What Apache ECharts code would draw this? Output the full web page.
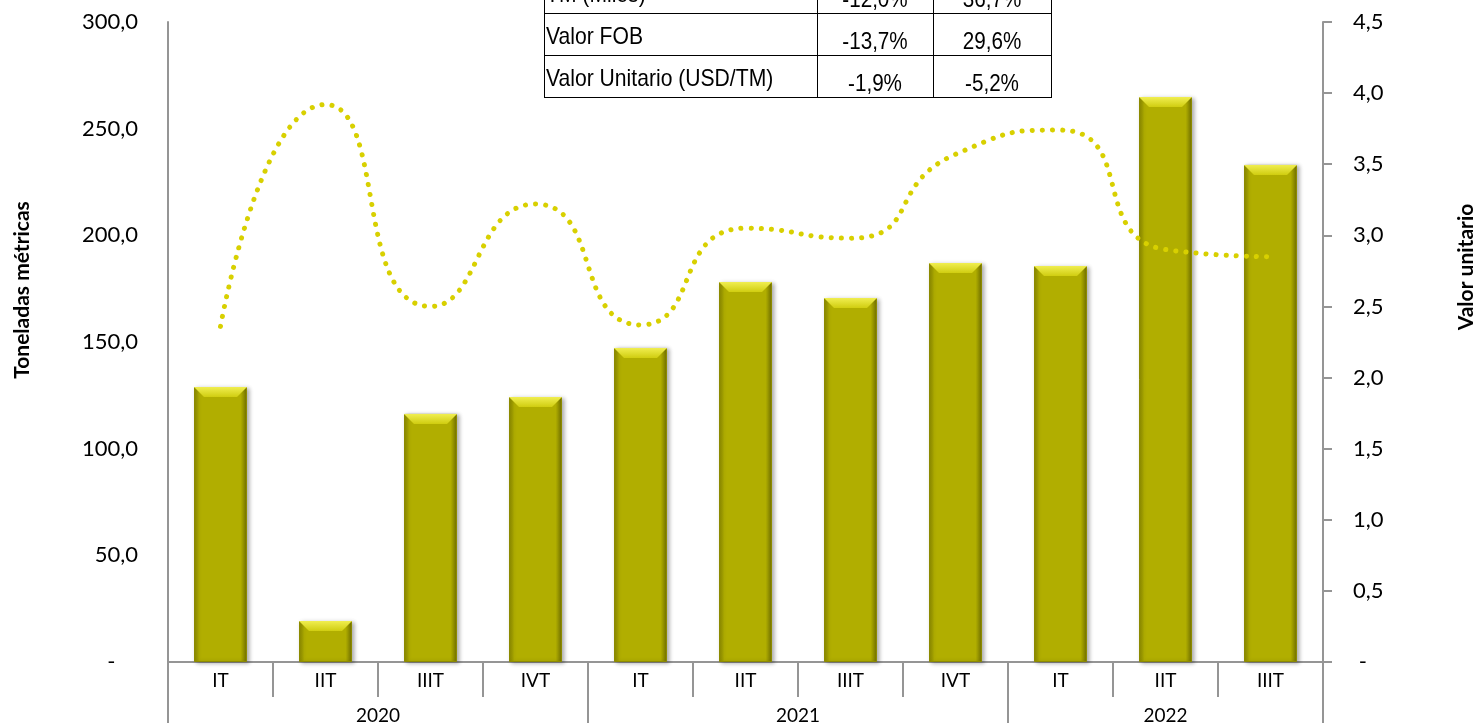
<!DOCTYPE html>
<html>
<head>
<meta charset="utf-8">
<title>Toneladas métricas y valor unitario</title>
<script src="https://cdn.jsdelivr.net/npm/echarts@6/dist/echarts.min.js"></script>
<style>
  html, body { margin: 0; padding: 0; background: #fff; }
  #chart { width: 1479px; height: 723px; }
</style>
</head>
<body>
<div id="chart"></div>
<script>
// categorías del eje x
const quarters = ["IT", "IIT", "IIIT", "IVT", "IT", "IIT", "IIIT", "IVT", "IT", "IIT", "IIIT"];
const years = ["2020", "2021", "2022"];
const quartersPerYear = [4, 4, 3];
// toneladas métricas (barras, eje izquierdo)
const toneladas = [128.9, 19.2, 116.3, 124.2, 147.2, 178.1, 170.6, 187.0, 185.6, 264.8, 233.0];
// valor unitario (línea, eje derecho)
const valorUnitario = [2.36, 3.92, 2.5, 3.22, 2.37, 3.05, 2.98, 3.57, 3.74, 2.9, 2.85];
// cuadro de variaciones
const tablaFilas = ["TM (Miles)", "Valor FOB", "Valor Unitario (USD/TM)"];
const tablaCol1 = ["-12,0%", "-13,7%", "-1,9%"];
const tablaCol2 = ["36,7%", "29,6%", "-5,2%"];

// límites y centros de cada año (en unidades de categoría)
const yearBorders = [0];
const yearCenters = [];
quartersPerYear.forEach(n => {
  const start = yearBorders[yearBorders.length - 1];
  yearCenters.push(start + n / 2);
  yearBorders.push(start + n);
});

const grey = "#959595";
const labelFont = "Lato, 'Open Sans', sans-serif";
const tableFont = "'Liberation Sans', Arial, sans-serif";

function fmt(v) {
  return v.toFixed(1).replace(".", ",");
}

// cuadro superior (cortado arriba), letra angosta simulada con scaleX
function buildTable() {
  const xs = [544, 817, 933, 1051];
  const ys = [-29, 13, 55, 97];
  const els = [];
  xs.forEach(x => {
    els.push({ type: "line", shape: { x1: x + 0.5, y1: ys[0], x2: x + 0.5, y2: ys[3] + 0.5 }, style: { stroke: "#000", lineWidth: 1 } });
  });
  ys.forEach(y => {
    els.push({ type: "line", shape: { x1: xs[0], y1: y + 0.5, x2: xs[3] + 1, y2: y + 0.5 }, style: { stroke: "#000", lineWidth: 1 } });
  });
  const txtStyle = (text, align) => ({ text: text, font: "24px " + tableFont, fill: "#000", align: align, verticalAlign: "middle" });
  tablaFilas.forEach((txt, i) => {
    const mid = (ys[i] + ys[i + 1]) / 2;
    els.push({ type: "text", x: xs[0] + 2, y: mid + 3, scaleX: 0.88, style: txtStyle(txt, "left") });
    els.push({ type: "text", x: (xs[1] + xs[2]) / 2, y: mid + 8, scaleX: 0.86, style: txtStyle(tablaCol1[i], "center") });
    els.push({ type: "text", x: (xs[2] + xs[3]) / 2, y: mid + 8, scaleX: 0.86, style: txtStyle(tablaCol2[i], "center") });
  });
  return els;
}

const chart = echarts.init(document.getElementById("chart"), null, { renderer: "canvas" });

const option = {
  animation: false,
  backgroundColor: "#fff",
  grid: { left: 168, right: 156, top: 22, bottom: 61, containLabel: false, outerBoundsMode: "none" },
  xAxis: [
    {
      type: "category",
      data: quarters,
      boundaryGap: true,
      axisLine: { lineStyle: { color: grey, width: 2 } },
      axisTick: { show: true, interval: 0, length: 35, lineStyle: { color: grey, width: 2 } },
      axisLabel: { interval: 0, margin: 9, color: "#000", fontSize: 19, fontFamily: labelFont }
    },
    {
      // fila de años
      type: "value",
      position: "bottom",
      min: 0,
      max: quarters.length,
      axisLine: { show: false },
      splitLine: { show: false },
      axisTick: { show: true, customValues: yearBorders, length: 62, lineStyle: { color: grey, width: 2 } },
      axisLabel: {
        customValues: yearCenters,
        margin: 44,
        color: "#000",
        fontSize: 19,
        fontFamily: labelFont,
        formatter: v => years[yearCenters.indexOf(v)]
      }
    }
  ],
  yAxis: [
    {
      type: "value",
      min: 0,
      max: 300,
      interval: 50,
      splitLine: { show: false },
      axisLine: { show: true, lineStyle: { color: grey, width: 2 } },
      axisTick: { show: false },
      axisLabel: {
        margin: 30,
        color: "#000",
        fontSize: 22,
        fontFamily: labelFont,
        formatter: v => (v === 0 ? "-    " : fmt(v))
      }
    },
    {
      type: "value",
      min: 0,
      max: 4.5,
      interval: 0.5,
      position: "right",
      splitLine: { show: false },
      axisLine: { show: true, lineStyle: { color: grey, width: 2 } },
      axisTick: { show: true, length: 9, lineStyle: { color: grey, width: 2 } },
      axisLabel: {
        margin: 30,
        color: "#000",
        fontSize: 22,
        fontFamily: labelFont,
        formatter: v => (v === 0 ? " -" : fmt(v))
      }
    }
  ],
  series: [
    {
      name: "Toneladas",
      type: "bar",
      data: toneladas,
      barWidth: 53,
      itemStyle: {
        color: new echarts.graphic.LinearGradient(0, 0, 1, 0, [
          { offset: 0, color: "#8a8900" },
          { offset: 0.1, color: "#b1ae00" },
          { offset: 0.88, color: "#b1ae00" },
          { offset: 1, color: "#6f6e00" }
        ]),
        borderColor: "#8c8a00",
        borderWidth: 1,
        shadowColor: "rgba(0,0,0,0.3)",
        shadowBlur: 4,
        shadowOffsetX: 2,
        shadowOffsetY: 1
      },
      z: 2
    },
    {
      // bisel superior de las barras
      name: "bisel",
      type: "pictorialBar",
      data: toneladas,
      symbol: "path://M0,0 L53,0 L43,10 L10,10 Z",
      symbolSize: [53, 10],
      symbolPosition: "end",
      symbolOffset: [0, 0],
      itemStyle: {
        color: new echarts.graphic.LinearGradient(0, 0, 0, 1, [
          { offset: 0, color: "#f0ee50" },
          { offset: 1, color: "#d0cd10" }
        ])
      },
      silent: true,
      z: 3
    },
    {
      name: "Valor unitario",
      type: "line",
      yAxisIndex: 1,
      data: valorUnitario,
      smooth: 0.6,
      showSymbol: false,
      lineStyle: { color: "#d8d000", width: 5, type: [0.1, 10], cap: "round" },
      z: 4
    }
  ],
  graphic: [
    {
      type: "text",
      x: 22,
      y: 290,
      rotation: Math.PI / 2,
      style: { text: "Toneladas métricas", font: "bold 21px " + labelFont, fill: "#000", align: "center", verticalAlign: "middle" }
    },
    {
      type: "text",
      x: 1466,
      y: 267,
      rotation: Math.PI / 2,
      style: { text: "Valor unitario", font: "bold 21px " + labelFont, fill: "#000", align: "center", verticalAlign: "middle" }
    }
  ].concat(buildTable())
};

chart.setOption(option);
</script>
</body>
</html>
